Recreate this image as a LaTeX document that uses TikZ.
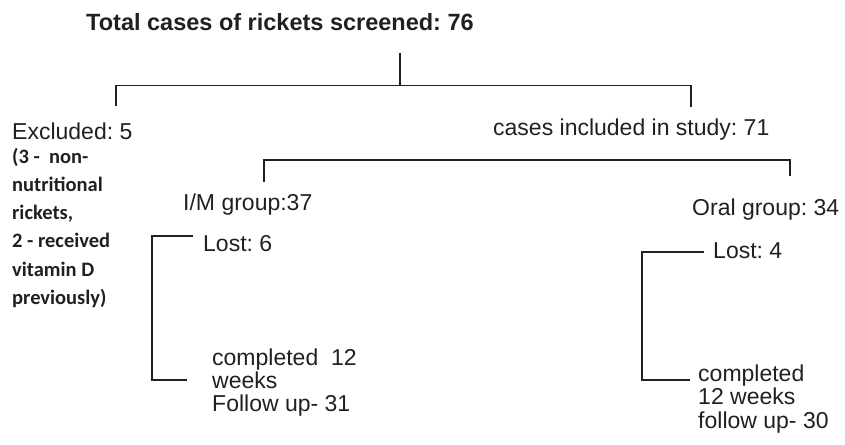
\documentclass[tikz,border=0pt]{standalone}
\usepackage{fontspec}
\setmainfont{Liberation Sans}
\newfontfamily\calib{Carlito}
\definecolor{ink}{HTML}{231F20}
\frenchspacing
\begin{document}
\begin{tikzpicture}[x=1pt,y=-1pt,
  txt/.style={inner sep=0pt, anchor=base west, text=ink, font=\fontsize{23}{23.5}\selectfont},
  note/.style={inner sep=0pt, anchor=base west, text=ink, font=\calib\bfseries\fontsize{20.5}{28.3}\selectfont},
  ln/.style={draw=ink, line width=1.4pt}]
\useasboundingbox (0,0) rectangle (845,444);
% texts
\node[txt, anchor=base, font=\bfseries\fontsize{23.5}{24}\selectfont] (title) at (280,31) {Total cases of rickets screened: 76};
\node[txt] (excl) at (12,139) {Excluded: 5};
\node[note] (exd) at (12,163) {\begin{tabular}[t]{@{}l@{}}(3 -\ \ non-\\nutritional\\rickets,\\2 - received\\vitamin D\\previously)\end{tabular}};
\node[txt] (incl) at (493,135) {cases included in study: 71};
\node[txt] (im) at (183,210) {I/M group:37};
\node[txt] (oral) at (692,215) {Oral group: 34};
\node[txt] (lost6) at (203,251) {Lost: 6};
\node[txt, font=\fontsize{23}{22.6}\selectfont] (comp1) at (212,365) {\begin{tabular}[t]{@{}l@{}}completed\ \ 12\\weeks\\Follow up- 31\end{tabular}};
\node[txt] (lost4) at (713,258) {Lost: 4};
\node[txt] (comp2) at (698,381) {\begin{tabular}[t]{@{}l@{}}completed\\12 weeks\\follow up- 30\end{tabular}};
% connector points
\coordinate (s0) at (400,53);
\coordinate (s1) at (400,85.5);
\coordinate (a1) at (116,106);
\coordinate (a2) at (691,107);
\coordinate (b0) at (264,160);
\coordinate (b1) at (264,182);
\coordinate (b2) at (790,176);
\coordinate (c1) at (193,236);
\coordinate (c2) at (152,380);
\coordinate (c3) at (187,380);
\coordinate (d1) at (704,252);
\coordinate (d2) at (642,380);
\coordinate (d3) at (690,380);
% connectors
\draw[ln] (s0) -- (s1);
\draw[ln] (a1) -- (a1 |- s1) -- (a2 |- s1) -- (a2);
\draw[ln] (b1) -- (b0) -- (b2 |- b0) -- (b2);
\draw[ln] (c1) -- (c2 |- c1) -- (c2) -- (c3);
\draw[ln] (d1) -- (d2 |- d1) -- (d2) -- (d3);
\end{tikzpicture}
\end{document}
